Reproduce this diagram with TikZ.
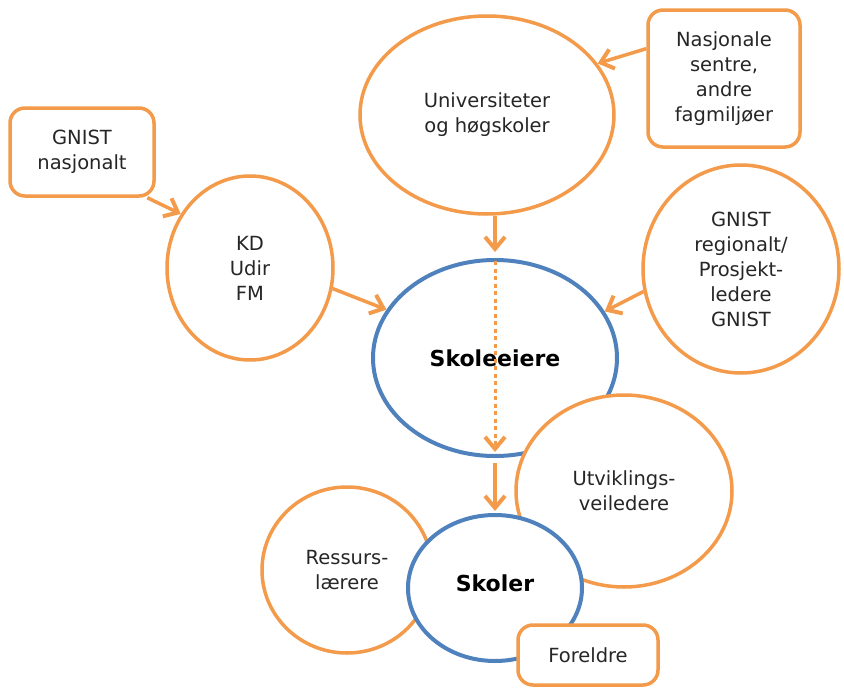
\documentclass[tikz,border=0pt]{standalone}
\usepackage{fontspec}
\setmainfont{DejaVu Sans}
\usetikzlibrary{shapes.geometric,arrows.meta}
\definecolor{org}{RGB}{244,155,75}
\definecolor{blu}{RGB}{79,129,189}
\begin{document}
\begin{tikzpicture}[x=1pt,y=-1pt,
  txt/.style={font=\fontsize{19.5}{25}\selectfont, align=center, text=black!85},
  oell/.style={ellipse, draw=org, line width=3.5pt, fill=white, inner sep=0pt, txt},
  bell/.style={ellipse, draw=blu, line width=4pt, fill=white, inner sep=0pt, align=center, font=\bfseries\fontsize{22}{26}\selectfont},
  obox/.style={rectangle, rounded corners=15pt, draw=org, line width=3.5pt, fill=white, inner sep=0pt, txt},
  arr/.style={draw=org, line width=3.5pt, -{Straight Barb[length=12pt,width=20pt,line width'=4pt]}},
]
\useasboundingbox (0,0) rectangle (844,688);
\fill[white] (0,0) rectangle (844,688);
\node[oell, minimum width=254pt, minimum height=198pt] (uni) at (487,115) {Universiteter\\og høgskoler};
\node[obox, minimum width=152pt, minimum height=137pt] (nasj) at (724,78.5) {Nasjonale\\sentre,\\andre\\fagmiljøer};
\node[obox, minimum width=144pt, minimum height=88pt] (gn) at (82,152) {GNIST\\nasjonalt};
\node[oell, minimum width=166pt, minimum height=184pt] (kd) at (250,268) {KD\\Udir\\FM};
\node[oell, minimum width=196pt, minimum height=208pt] (reg) at (741,269) {GNIST\\regionalt/\\Prosjekt-\\ledere\\GNIST};
\node[bell, minimum width=244pt, minimum height=196pt] (ske) at (495,358) {Skoleeiere};
\node[oell, minimum width=216pt, minimum height=192pt] (utv) at (624,491) {Utviklings-\\veiledere};
\node[oell, minimum width=170pt, minimum height=166pt] (ress) at (347,570) {Ressurs-\\lærere};
\node[bell, minimum width=174pt, minimum height=146pt] (skl) at (495,588) {\raisebox{10pt}{Skoler}};
\node[obox, minimum width=140pt, minimum height=60pt] (for) at (588,655) {Foreldre};
\draw[arr] (nasj.159) -- (uni.25);
\draw[arr] (gn.-35) -- (kd.142);
\draw[arr] (kd.-14) -- (ske.156);
\draw[arr] (reg.193) -- (ske.23);
\draw[arr, shorten >=6pt] (uni.south -| ske.north) -- (ske.north);
\draw[arr, dash pattern=on 4pt off 3.5pt, line width=3pt, shorten <=3pt, shorten >=6pt] (ske.north) -- (ske.south);
\draw[arr, shorten <=5pt, shorten >=2pt] (ske.south) -- (skl.north);
\end{tikzpicture}
\end{document}
